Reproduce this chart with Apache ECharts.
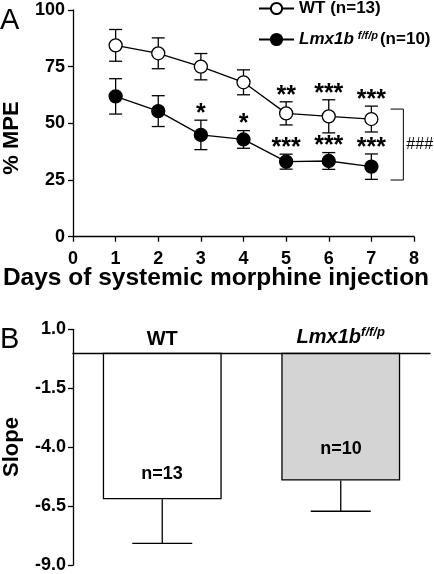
<!DOCTYPE html>
<html><head><meta charset="utf-8">
<script src="https://cdn.jsdelivr.net/npm/echarts@6/dist/echarts.min.js"></script>
<style>html,body{margin:0;padding:0;background:#fff}#c{width:434px;height:574px}</style>
</head><body><div id="c"></div>
<script>
// ---- Panel A data ----
const days = [1, 2, 3, 4, 5, 6, 7];
const wtMean = [84.4, 80.9, 75.0, 68.1, 54.4, 53.1, 51.9];
const wtErr = [7.0, 6.8, 5.8, 5.5, 5.1, 7.3, 5.7];
const lmxMean = [61.9, 55.4, 44.9, 42.9, 33.1, 33.4, 30.9];
const lmxErr = [7.8, 6.8, 6.5, 3.9, 3.3, 3.7, 5.6];
const wtStars = ['', '', '', '', '**', '***', '***'];
const lmxStars = ['', '', '*', '*', '***', '***', '***'];
const bracketDays = [7.45, 7.75];
const bracketRange = [56.3, 25.0];
const bracketLabel = '###';
const wtName = 'WT (n=13)';
const lmxName = 'Lmx1b f/f/p (n=10)';
// ---- Panel B data ----
const slopeGroups = ['WT', 'Lmx1b'];
const slopeMean = [-6.21, -5.42];
const slopeErr = [1.87, 1.30];
const slopeN = ['n=13', 'n=10'];
const slopeTicks = [1.0, -1.5, -4.0, -6.5, -9.0];

const FONT = 'Liberation Sans, Arial, sans-serif';
const LW = 1.3;

function errA(mean, err) {
  return days.map((d, i) => [d, mean[i] - err[i], mean[i] + err[i]]);
}
function errRender(capHalf) {
  return function (params, api) {
    const x = api.value(0);
    const pLo = api.coord([x, api.value(1)]);
    const pHi = api.coord([x, api.value(2)]);
    const st = { stroke: '#000', lineWidth: LW, fill: null };
    return {
      type: 'group', children: [
        { type: 'line', shape: { x1: pHi[0], y1: pHi[1], x2: pLo[0], y2: pLo[1] }, style: st },
        { type: 'line', shape: { x1: pHi[0] - capHalf, y1: pHi[1], x2: pHi[0] + capHalf, y2: pHi[1] }, style: st },
        { type: 'line', shape: { x1: pLo[0] - capHalf, y1: pLo[1], x2: pLo[0] + capHalf, y2: pLo[1] }, style: st }
      ]
    };
  };
}
function starRender(stars) {
  return function (params, api) {
    const s = stars[params.dataIndex];
    if (!s) return null;
    const p = api.coord([api.value(0), api.value(1)]);
    return { type: 'text', x: p[0], y: p[1] - 6,
      style: { text: s, fill: '#000', font: 'bold 25px ' + FONT, align: 'center', verticalAlign: 'middle' } };
  };
}

const chart = echarts.init(document.getElementById('c'), null, { renderer: 'canvas' });
const axisLine = { lineStyle: { color: '#000', width: LW } };
const axisTick = { length: 5, lineStyle: { color: '#000', width: LW } };
const tickFont = { color: '#000', fontFamily: FONT, fontWeight: 'bold', fontSize: 18 };

chart.setOption({
  animation: false,
  backgroundColor: '#fff',
  textStyle: { fontFamily: FONT },
  legend: {
    orient: 'vertical', left: 258, top: 0, padding: 0, itemWidth: 35, itemHeight: 14, itemGap: 13,
    data: [wtName, lmxName],
    textStyle: { color: '#000', fontFamily: FONT, fontWeight: 'bold', fontSize: 17,
      rich: {
        it: { fontFamily: FONT, fontWeight: 'bold', fontStyle: 'italic', fontSize: 17, color: '#000' },
        sup: { fontFamily: FONT, fontWeight: 'bold', fontStyle: 'italic', fontSize: 11, color: '#000', verticalAlign: 'top', padding: [0, 2, 8, 4] },
        n: { fontFamily: FONT, fontWeight: 'bold', fontSize: 17, color: '#000' }
      } },
    formatter: function (name) {
      if (name === lmxName) return '{it|Lmx1b}{sup|f/f/p}{n|(n=10)}';
      return name;
    }
  },
  grid: [
    { left: 73, right: 20, top: 10, bottom: 337.3 },
    { left: 73, right: 4, top: 329.3, bottom: 9 }
  ],
  xAxis: [
    { gridIndex: 0, type: 'value', min: 0, max: 8, interval: 1, splitLine: { show: false },
      axisLine: axisLine, axisTick: axisTick, axisLabel: Object.assign({ margin: 13 }, tickFont) },
    { gridIndex: 1, type: 'category', data: slopeGroups, position: 'top',
      axisLine: Object.assign({ onZero: true }, axisLine), axisTick: { show: false },
      axisLabel: { margin: -20, interval: 0, color: '#000', fontFamily: FONT, fontWeight: 'bold', fontSize: 20,
        formatter: function (v) { return v === 'Lmx1b' ? '{it|Lmx1b}{sup|f/f/p}' : v; },
        rich: {
          it: { fontFamily: FONT, fontWeight: 'bold', fontStyle: 'italic', fontSize: 20, color: '#000' },
          sup: { fontFamily: FONT, fontWeight: 'bold', fontStyle: 'italic', fontSize: 13, color: '#000', verticalAlign: 'top', padding: [0, 0, 10, 0] }
        } } }
  ],
  yAxis: [
    { gridIndex: 0, type: 'value', min: 0, max: 100, interval: 25, splitLine: { show: false },
      axisLine: axisLine, axisTick: axisTick, axisLabel: Object.assign({ margin: 8 }, tickFont) },
    { gridIndex: 1, type: 'value', min: -9, max: 1, splitLine: { show: false },
      axisLine: Object.assign({ show: true }, axisLine),
      axisTick: Object.assign({ show: true, customValues: slopeTicks }, axisTick),
      axisLabel: Object.assign({ margin: 7, customValues: slopeTicks, formatter: v => v.toFixed(1) }, tickFont) }
  ],
  series: [
    { type: 'custom', xAxisIndex: 0, yAxisIndex: 0, renderItem: errRender(6.5), data: errA(wtMean, wtErr), z: 1, silent: true },
    { type: 'custom', xAxisIndex: 0, yAxisIndex: 0, renderItem: errRender(6.5), data: errA(lmxMean, lmxErr), z: 1, silent: true },
    { name: wtName, type: 'line', xAxisIndex: 0, yAxisIndex: 0, data: days.map((d, i) => [d, wtMean[i]]),
      symbol: 'circle', symbolSize: 13, lineStyle: { color: '#000', width: LW },
      itemStyle: { color: '#fff', borderColor: '#000', borderWidth: LW }, z: 3 },
    { name: lmxName, type: 'line', xAxisIndex: 0, yAxisIndex: 0, data: days.map((d, i) => [d, lmxMean[i]]),
      symbol: 'circle', symbolSize: 13, lineStyle: { color: '#000', width: LW },
      itemStyle: { color: '#000', borderColor: '#000', borderWidth: LW }, z: 3 },
    { type: 'custom', xAxisIndex: 0, yAxisIndex: 0, renderItem: starRender(wtStars), data: days.map((d, i) => [d, wtMean[i] + wtErr[i]]), z: 4, silent: true },
    { type: 'custom', xAxisIndex: 0, yAxisIndex: 0, renderItem: starRender(lmxStars), data: days.map((d, i) => [d, lmxMean[i] + lmxErr[i]]), z: 4, silent: true },
    { type: 'custom', xAxisIndex: 0, yAxisIndex: 0, silent: true, z: 4, data: [[bracketDays[0], bracketRange[0], bracketDays[1], bracketRange[1]]],
      renderItem: function (params, api) {
        const a = api.coord([api.value(0), api.value(1)]);
        const b = api.coord([api.value(2), api.value(3)]);
        const st = { stroke: '#000', lineWidth: 1, fill: null };
        return { type: 'group', children: [
          { type: 'polyline', shape: { points: [[a[0], a[1]], [b[0], a[1]], [b[0], b[1]], [a[0], b[1]]] }, style: st },
          { type: 'text', x: b[0] + 3, y: (a[1] + b[1]) / 2,
            style: { text: bracketLabel, fill: '#000', font: '16px ' + FONT, align: 'left', verticalAlign: 'middle' } }
        ] };
      } },
    // Panel B
    { type: 'bar', xAxisIndex: 1, yAxisIndex: 1, barCategoryGap: '33.4%', silent: true,
      data: slopeMean.map((v, i) => ({ value: v, itemStyle: { color: i === 0 ? '#ffffff' : '#d4d4d4', borderColor: '#000', borderWidth: LW } })), z: 2 },
    { type: 'custom', xAxisIndex: 1, yAxisIndex: 1, silent: true, z: 1,
      renderItem: function (params, api) {
        const x = api.value(0);
        const pTop = api.coord([x, api.value(1)]);
        const pLo = api.coord([x, api.value(2)]);
        const st = { stroke: '#000', lineWidth: LW, fill: null };
        return { type: 'group', children: [
          { type: 'line', shape: { x1: pTop[0], y1: pTop[1], x2: pLo[0], y2: pLo[1] }, style: st },
          { type: 'line', shape: { x1: pLo[0] - 30, y1: pLo[1], x2: pLo[0] + 30, y2: pLo[1] }, style: st }
        ] };
      },
      data: slopeMean.map((v, i) => [i, v, v - slopeErr[i]]) }
  ],
  graphic: [
    { type: 'text', z: 100, left: 0, top: 6, style: { text: 'A', font: '29px ' + FONT, fill: '#000' } },
    { type: 'text', z: 100, left: 0, top: 325, style: { text: 'B', font: '29px ' + FONT, fill: '#000' } },
    { type: 'text', z: 100, x: 216, y: 278, style: { text: 'Days of systemic morphine injection', font: 'bold 24.5px ' + FONT, fill: '#000', align: 'center', verticalAlign: 'middle' } },
    { type: 'text', z: 100, x: 12, y: 138, rotation: Math.PI / 2, style: { text: '% MPE', font: 'bold 22px ' + FONT, fill: '#000', align: 'center', verticalAlign: 'middle' } },
    { type: 'text', z: 100, x: 12, y: 447, rotation: Math.PI / 2, style: { text: 'Slope', font: 'bold 22px ' + FONT, fill: '#000', align: 'center', verticalAlign: 'middle' } },
    { type: 'text', z: 100, x: 162, y: 474, style: { text: slopeN[0], font: 'bold 18px ' + FONT, fill: '#000', align: 'center', verticalAlign: 'middle' } },
    { type: 'text', z: 100, x: 341, y: 449, style: { text: slopeN[1], font: 'bold 18px ' + FONT, fill: '#000', align: 'center', verticalAlign: 'middle' } }
  ]
});
</script></body></html>
